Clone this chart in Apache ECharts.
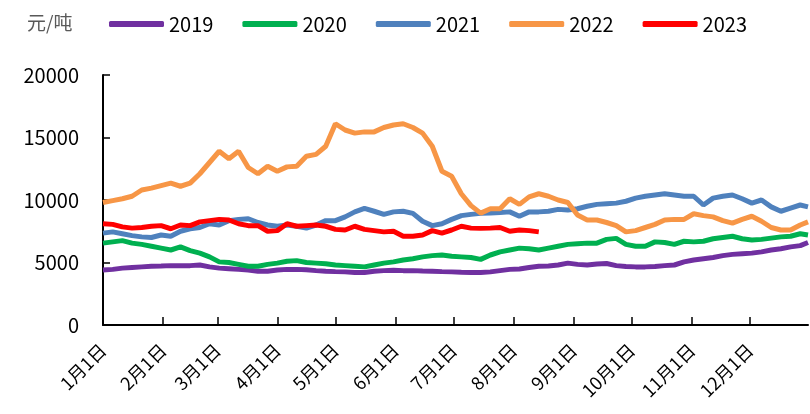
<!DOCTYPE html>
<html>
<head>
<meta charset="utf-8">
<script src="https://cdn.jsdelivr.net/npm/echarts@6/dist/echarts.min.js"></script>
<style>html,body{margin:0;padding:0;background:#fff}#c{width:810px;height:414px}</style>
</head>
<body>
<div id="c"></div>
<script>
// category labels: every day of a (non-leap) year
const monthLengths = [31,28,31,30,31,30,31,31,30,31,30,31];
const categories = [];
monthLengths.forEach((n, m) => { for (let d = 1; d <= n; d++) categories.push((m + 1) + '月' + d + '日'); });

// sampled day-of-year indices (0 = 1月1日)
const days = [0,5,10,15,20,25,30,35,40,45,50,55,60,65,70,75,80,85,90,95,100,105,110,115,120,125,130,135,140,145,150,155,160,165,170,175,180,185,190,195,200,205,210,215,220,225,230,235,240,245,250,255,260,265,270,275,280,285,290,295,300,305,310,315,320,325,330,335,340,345,350,355,360,364];

const s2019 = [4400,4450,4550,4600,4650,4700,4720,4750,4750,4750,4800,4650,4550,4500,4450,4400,4300,4300,4400,4450,4450,4420,4350,4300,4270,4250,4200,4200,4300,4350,4380,4350,4350,4320,4300,4270,4250,4220,4200,4200,4250,4350,4450,4480,4600,4700,4720,4800,4950,4850,4800,4880,4920,4750,4680,4650,4650,4680,4750,4800,5050,5200,5300,5400,5550,5650,5700,5750,5850,6000,6100,6250,6350,6600];
const s2020 = [6550,6650,6750,6550,6450,6300,6150,6000,6250,5950,5750,5450,5050,5000,4850,4700,4700,4850,4950,5100,5150,5000,4950,4900,4800,4750,4700,4650,4800,4950,5050,5200,5300,5450,5550,5600,5500,5450,5400,5250,5600,5850,6000,6150,6100,6000,6150,6300,6450,6500,6550,6550,6850,6930,6450,6300,6300,6650,6600,6450,6700,6650,6700,6900,7000,7100,6900,6800,6850,6950,7050,7100,7300,7200];
const s2021 = [7350,7450,7300,7150,7050,7000,7200,7100,7500,7700,7800,8100,8000,8350,8450,8500,8200,8000,7900,8000,7900,7750,8000,8350,8350,8650,9050,9330,9100,8850,9050,9100,8930,8300,7950,8100,8450,8750,8850,8930,8950,9000,9050,8700,9050,9050,9100,9250,9200,9300,9500,9650,9700,9750,9900,10150,10300,10400,10500,10400,10300,10300,9600,10150,10300,10400,10100,9750,10000,9450,9100,9350,9600,9450];
const s2022 = [9800,9950,10100,10300,10800,10950,11150,11350,11100,11350,12100,13000,13900,13300,13900,12600,12100,12700,12300,12650,12700,13500,13650,14300,16100,15600,15350,15450,15450,15800,16000,16100,15800,15350,14300,12300,11900,10500,9550,8950,9300,9300,10100,9650,10250,10500,10300,10000,9800,8800,8400,8400,8200,7950,7450,7550,7800,8050,8400,8450,8450,8900,8750,8650,8350,8150,8450,8700,8300,7800,7600,7600,8000,8250];
const s2023 = [8100,8050,7850,7750,7800,7900,7950,7700,8000,7950,8250,8350,8450,8400,8100,7950,7950,7500,7550,8100,7900,7950,8000,7900,7650,7600,7900,7650,7550,7450,7500,7100,7100,7200,7550,7350,7600,7900,7750,7730,7750,7800,7500,7600,7550,7450];

const seriesNames = ['2019','2020','2021','2022','2023'];
const seriesValues = [s2019, s2020, s2021, s2022, s2023];
const colors = ['#7030A0','#00B050','#4F81BD','#F79646','#FF0000'];

const isMonthStart = (i, v) => /^\d+月1日$/.test(v);
const font = "'Noto Sans CJK SC', 'Noto Sans', sans-serif";

const chart = echarts.init(document.getElementById('c'));
chart.setOption({
  animation: false,
  color: colors,
  textStyle: { fontFamily: font },
  title: {
    text: '元/吨', left: 22, top: 8,
    textStyle: { fontSize: 19, fontWeight: 'normal', color: '#595959', fontFamily: font }
  },
  legend: {
    data: seriesNames, left: 104, top: 9,
    icon: 'roundRect', itemWidth: 55, itemHeight: 6, itemGap: 29,
    textStyle: { fontSize: 20, color: '#000', fontFamily: font }
  },
  grid: { left: 103, right: 2, top: 75, bottom: 89, containLabel: false },
  xAxis: {
    type: 'category', data: categories, boundaryGap: false,
    axisLine: { lineStyle: { color: '#000', width: 2 } },
    axisTick: { inside: true, length: 8, interval: isMonthStart, lineStyle: { color: '#000', width: 1.5 } },
    axisLabel: { interval: isMonthStart, rotate: 45, margin: 22, fontSize: 18, color: '#000', fontFamily: font }
  },
  yAxis: {
    type: 'value', min: 0, max: 20000, interval: 5000,
    axisLine: { show: true, lineStyle: { color: '#000', width: 2 } },
    axisTick: { show: true, inside: true, length: 7, lineStyle: { color: '#000', width: 1.5 } },
    splitLine: { show: false },
    axisLabel: { fontSize: 20, color: '#000', margin: 24, fontFamily: font, formatter: v => String(v) }
  },
  series: seriesNames.map((name, k) => ({
    name, type: 'line', showSymbol: false, symbol: 'none',
    lineStyle: { width: 5, color: colors[k] },
    data: seriesValues[k].map((v, i) => [days[i], v])
  }))
});
</script>
</body>
</html>
